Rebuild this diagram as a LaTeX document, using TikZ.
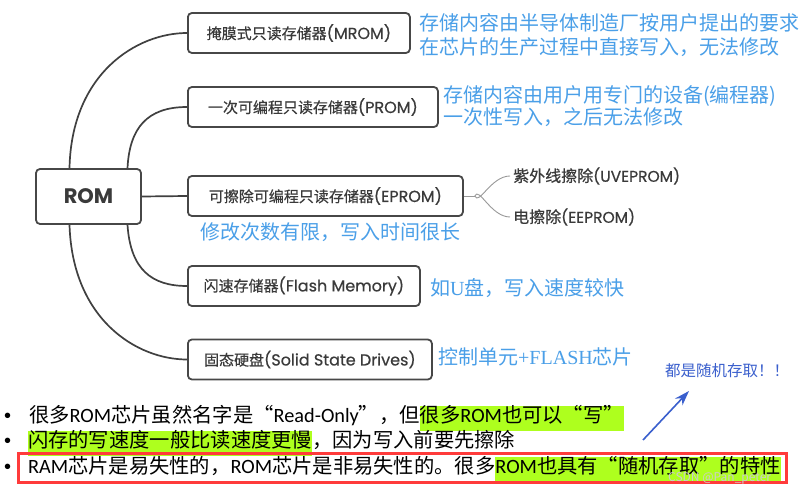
\documentclass[tikz,border=0pt]{standalone}
\usepackage{fontspec}
\setmainfont{Noto Sans CJK SC}
\newfontfamily\serifl{Liberation Serif}
\newfontfamily\pop[FakeBold=0.5]{Poppins}
\newfontfamily\popb{Poppins}
\newfontfamily\cjkm[FakeBold=0.5]{Noto Sans CJK SC}
\newfontfamily\carl{Carlito}
\newfontfamily\lsans{Liberation Sans}
\newcommand\boxlat[1]{{\pop\fontsize{16}{18}\selectfont #1}}
\newcommand\sublat[1]{{\pop\fontsize{15.5}{18}\selectfont #1}}
\newcommand\bullat[1]{{\carl #1}}
\usetikzlibrary{arrows.meta}
\definecolor{boxline}{HTML}{474747}
\definecolor{boxtext}{HTML}{3A3A3A}
\definecolor{note}{HTML}{4A9FE8}
\definecolor{deepnote}{HTML}{3A5FCD}
\definecolor{hlgreen}{HTML}{AEFF1E}
\definecolor{redframe}{HTML}{FF3B3B}
\tikzset{
  rombox/.style={draw=boxline, line width=1.8pt, rounded corners=4pt, text=boxtext,
    minimum height=40pt, inner xsep=8pt, font=\cjkm\fontsize{15}{18}\selectfont},
  conn/.style={draw=boxline!90!black, line width=1.7pt},
  subconn/.style={draw=gray!80, line width=0.9pt},
  sublabel/.style={anchor=west, inner sep=0pt, text=boxtext, font=\cjkm\fontsize{16}{18}\selectfont},
  notetext/.style={anchor=base west, inner sep=0pt, text=note, font=\fontsize{20}{24}\selectfont},
  bullettext/.style={anchor=base west, inner sep=0pt, outer sep=0pt, text=black,
    text height=16pt, text depth=9pt, font=\fontsize{20.3}{24}\selectfont},
  hl/.style={bullettext, fill=hlgreen},
  bulletdot/.style={anchor=base west, inner sep=0pt, font=\lsans\fontsize{20}{24}\selectfont}
}
\begin{document}
\begin{tikzpicture}[x=1pt,y=-1pt]
\path[use as bounding box, fill=white] (0,0) rectangle (805,494);

% central node
\node[draw=boxline, line width=1.8pt, rounded corners=4pt, text=boxtext,
  minimum width=105pt, minimum height=55pt, font=\popb\fontsize{21}{24}\selectfont\bfseries]
  (rom) at (88.5,196.5) {ROM};

% branch boxes
\node[rombox, anchor=west, minimum width=222pt] (mrom) at (187,33) {掩膜式只读存储器\boxlat{(MROM)}};
\node[rombox, anchor=west, minimum width=250pt] (prom) at (187,107) {一次可编程只读存储器\boxlat{(PROM)}};
\node[rombox, anchor=west, minimum width=275pt] (eprom) at (187,196) {可擦除可编程只读存储器\boxlat{(EPROM)}};
\node[rombox, anchor=west, minimum width=232pt] (flash) at (187,286) {闪速存储器\boxlat{(Flash Memory)}};
\node[rombox, anchor=west, minimum width=244pt] (ssd) at (187,359.5) {固态硬盘\boxlat{(Solid State Drives)}};

% connectors
\coordinate (t1) at ([xshift=-19pt]rom.north);
\coordinate (t2) at ([xshift=39pt]rom.north);
\coordinate (b1) at ([xshift=39pt]rom.south);
\coordinate (b2) at ([xshift=-19pt]rom.south);
\draw[conn] (t1) .. controls ([xshift=2pt,yshift=95pt]t1) and ([xshift=-50pt]mrom.west) .. (mrom.west);
\draw[conn] (t2) .. controls ([xshift=2pt,yshift=40pt]t2) and ([xshift=-40pt]prom.west) .. (prom.west);
\draw[conn] (rom.east) -- (eprom.west);
\draw[conn] (b1) .. controls ([xshift=3pt,yshift=-45pt]b1) and ([xshift=-35pt]flash.west) .. (flash.west);
\draw[conn] (b2) .. controls ([xshift=3pt,yshift=-95pt]b2) and ([xshift=-50pt]ssd.west) .. (ssd.west);

% EPROM sub-branches
\node[sublabel] (uv) at (513,176) {紫外线擦除\sublat{(UVEPROM)}};
\node[sublabel] (ee) at (513,217) {电擦除\sublat{(EEPROM)}};
\coordinate (split) at ([xshift=11pt]eprom.east);
\draw[subconn] (eprom.east) -- (split);
\draw[subconn] (split) .. controls ([xshift=4pt,yshift=-10pt]split) and ([xshift=-22pt]uv.west) .. ([xshift=-3pt]uv.west);
\draw[subconn] (split) .. controls ([xshift=4pt,yshift=10pt]split) and ([xshift=-22pt]ee.west) .. ([xshift=-3pt]ee.west);

% blue notes
\node[notetext] (n1a) at (419,30.5) {存储内容由半导体制造厂按用户提出的要求};
\node[notetext] (n1b) at (419,54.5) {在芯片的生产过程中直接写入，无法修改};
\node[notetext] (n2a) at (443,103) {存储内容由用户用专门的设备(编程器)};
\node[notetext] (n2b) at (443,125) {一次性写入，之后无法修改};
\node[notetext] (n3) at (200,239.5) {修改次数有限，写入时间很长};
\node[notetext] (n4) at (430,295.5) {如{\serifl U}盘，写入速度较快};
\node[notetext] (n5) at (438,364.5) {控制单元{\serifl +FLASH}芯片};
\node[anchor=base west, inner sep=0pt, text=deepnote, font=\fontsize{15.5}{18}\selectfont]
  (rand) at (665,376) {都是随机存取！！};

% arrow
\coordinate (arrS) at (643,440);
\coordinate (arrE) at (689,391);
\draw[draw=deepnote, line width=1.6pt, -{Stealth[length=15pt,width=10pt]}] (arrS) -- (arrE);

% bullet lines
\node[bulletdot] (d1) at (4,422) {•};
\node[bulletdot] (d2) at (4,447) {•};
\node[bulletdot] (d3) at (4,473) {•};

\node[bullettext] (l1a) at (29,422) {很多\bullat{ROM}芯片虽然名字是“\bullat{Read-Only}”，但};
\node[hl] (l1b) at (l1a.base east) {很多\bullat{ROM}也可以“写”};

\node[hl] (l2a) at (28,447) {闪存的写速度一般比读速度更慢};
\node[bullettext] (l2b) at (l2a.base east) {，因为写入前要先擦除};

\node[bullettext] (l3a) at (28,473) {\bullat{RAM}芯片是易失性的，\bullat{ROM}芯片是非易失性的。很多};
\node[hl] (l3b) at (l3a.base east) {\bullat{ROM}也具有“随机存取”的特性};

\draw[draw=redframe, line width=3pt] (18,453) rectangle (786,482);

% watermark
\node[anchor=base west, inner sep=0pt, text=gray!40, font=\fontsize{12}{14}\selectfont]
  (wm) at (668,481) {CSDN @Pan\_peter};
\end{tikzpicture}
\end{document}
